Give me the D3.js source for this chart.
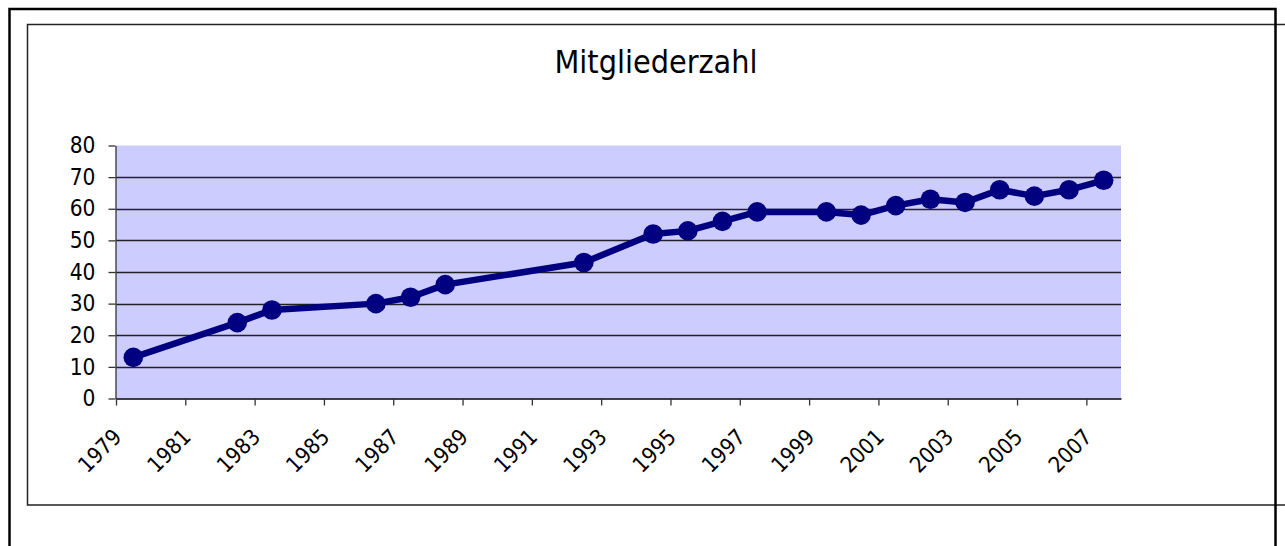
<!DOCTYPE html>
<html>
<head>
<meta charset="utf-8">
<script src="https://cdn.jsdelivr.net/npm/d3@7"></script>
<style>
  body { margin: 0; background: #fff; }
  svg { display: block; }
</style>
</head>
<body>
<div id="chart"></div>
<script>
// Data
const years = [1979, 1982, 1983, 1986, 1987, 1988, 1992, 1994, 1995, 1996,
               1997, 1999, 2000, 2001, 2002, 2003, 2004, 2005, 2006, 2007];
const members = [13, 24, 28, 30, 32, 36, 43, 52, 53, 56,
                 59, 59, 58, 61, 63, 62, 66, 64, 66, 69];
const xTickYears = [1979, 1981, 1983, 1985, 1987, 1989, 1991, 1993,
                    1995, 1997, 1999, 2001, 2003, 2005, 2007];
const yTicks = [0, 10, 20, 30, 40, 50, 60, 70, 80];
const gridTicks = [10, 20, 30, 40, 50, 60, 70];
const title = "Mitgliederzahl";

const width = 1285, height = 546;
const plot = { left: 116, right: 1121, top: 145.5, bottom: 398.5 };
const labelFont = "'DejaVu Sans Condensed', 'DejaVu Sans', sans-serif";

const svg = d3.select("#chart").append("svg")
    .attr("width", width)
    .attr("height", height);

// Chart frames
svg.append("rect")
    .attr("x", 27.5).attr("y", 24.5)
    .attr("width", 1300).attr("height", 480.5)
    .attr("fill", "none")
    .attr("stroke", "#222")
    .attr("stroke-width", 1.5);

svg.append("rect")
    .attr("x", 9.5).attr("y", 9)
    .attr("width", 1266).attr("height", 560)
    .attr("fill", "none")
    .attr("stroke", "#000")
    .attr("stroke-width", 2.5);

// Title
svg.append("text")
    .attr("x", 656).attr("y", 73)
    .attr("text-anchor", "middle")
    .style("font-family", labelFont)
    .style("font-stretch", "condensed")
    .style("font-size", "32px")
    .attr("fill", "#000")
    .text(title);

// Scales
const x = d3.scaleLinear().domain([1979, 2008]).range([plot.left, plot.right]);
const y = d3.scaleLinear().domain([0, 80]).range([plot.bottom, plot.top]);

// Plot area
svg.append("rect")
    .attr("x", plot.left).attr("y", plot.top)
    .attr("width", plot.right - plot.left)
    .attr("height", plot.bottom - plot.top)
    .attr("fill", "#ccccff");

// Gridlines
svg.append("g").selectAll("line")
    .data(gridTicks)
    .enter().append("line")
    .attr("x1", plot.left).attr("x2", plot.right)
    .attr("y1", d => Math.round(y(d)) + 0.5)
    .attr("y2", d => Math.round(y(d)) + 0.5)
    .attr("stroke", "#222")
    .attr("stroke-width", 1.3);

// Y axis
const yAxis = svg.append("g")
    .attr("transform", `translate(${plot.left - 0.5},0)`)
    .call(d3.axisLeft(y).tickValues(yTicks).tickSize(7).tickSizeOuter(0).tickPadding(13));
yAxis.select(".domain").attr("stroke", "#333").attr("stroke-width", 1.3);
yAxis.selectAll(".tick line").attr("stroke", "#333").attr("stroke-width", 1.3);
yAxis.selectAll(".tick text")
    .style("font-family", labelFont)
    .style("font-stretch", "condensed")
    .style("font-size", "22.5px")
    .attr("fill", "#000");

// X axis
const xAxis = svg.append("g")
    .attr("transform", `translate(0,${plot.bottom})`)
    .call(d3.axisBottom(x).tickValues(xTickYears).tickSize(7).tickSizeOuter(0).tickFormat(d3.format("d")));
xAxis.select(".domain").attr("stroke", "#000").attr("stroke-width", 1.3);
xAxis.selectAll(".tick line").attr("stroke", "#333").attr("stroke-width", 1.3);
xAxis.selectAll(".tick text")
    .style("font-family", labelFont)
    .style("font-stretch", "condensed")
    .style("font-size", "22px")
    .attr("fill", "#000")
    .attr("text-anchor", "middle")
    .attr("x", 0).attr("y", 0).attr("dy", "0.36em")
    .attr("transform", "translate(-17,52) rotate(-45)");

// Series
const points = years.map((yr, i) => ({ year: yr, value: members[i] }));

const line = d3.line()
    .x(d => x(d.year + 0.5))
    .y(d => y(d.value));

svg.append("path")
    .datum(points)
    .attr("d", line)
    .attr("fill", "none")
    .attr("stroke", "#000080")
    .attr("stroke-width", 6.5)
    .attr("stroke-linejoin", "round");

svg.append("g").selectAll("circle")
    .data(points)
    .enter().append("circle")
    .attr("cx", d => x(d.year + 0.5))
    .attr("cy", d => y(d.value))
    .attr("r", 9.8)
    .attr("fill", "#000080");
</script>
</body>
</html>
